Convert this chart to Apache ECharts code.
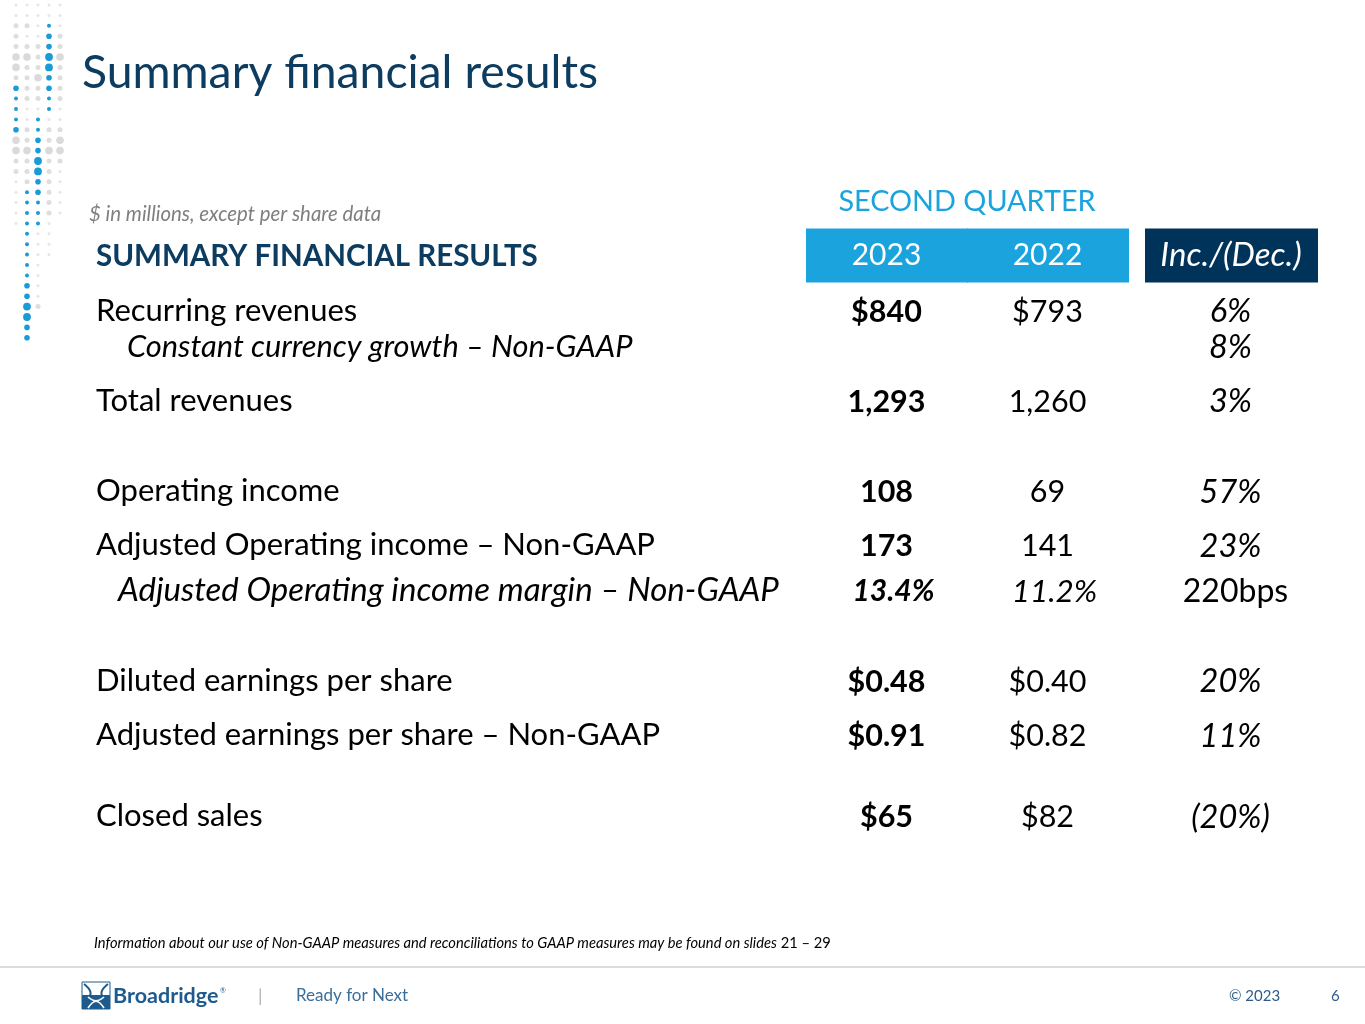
<!DOCTYPE html>
<html>
<head>
<meta charset="utf-8">
<script src="https://cdn.jsdelivr.net/npm/echarts@6/dist/echarts.min.js"></script>
<style>
  html, body { margin: 0; padding: 0; background: #fff; }
  #main { width: 1365px; height: 1024px; }
</style>
</head>
<body>
<div id="main"></div>
<script>
// table content
const rowLabels = [
  'SUMMARY FINANCIAL RESULTS',
  'Recurring revenues',
  'Constant currency growth – Non-GAAP',
  'Total revenues',
  'Operating income',
  'Adjusted Operating income – Non-GAAP',
  'Adjusted Operating income margin – Non-GAAP',
  'Diluted earnings per share',
  'Adjusted earnings per share – Non-GAAP',
  'Closed sales'
];
const columns = ['2023', '2022', 'Inc./(Dec.)'];
const values2023 = ['', '$840', '', '1,293', '108', '173', '13.4%', '$0.48', '$0.91', '$65'];
const values2022 = ['', '$793', '', '1,260', '69', '141', '11.2%', '$0.40', '$0.82', '$82'];
const changes = ['', '6%', '8%', '3%', '57%', '23%', '220bps', '20%', '11%', '(20%)'];

// layout: blank line units before each row, which rows are indented sub-lines
const gapBefore = [0, 6, 4, 6, 10, 6, 5, 10, 6, 9];
const subRowIndent = { 2: 31, 6: 22 };

const FONT = 'Lato, "Noto Sans", sans-serif';
const NAVY = '#0d3c61';
const SKY = '#1ba3dd';
const BODY = 31;

// build the category slots of the y axis
const rowSlot = [];
let s = 0;
gapBefore.forEach(function (g) { s += g; rowSlot.push(s); });
const slotCount = s + 1;
const slotNames = [];
const slotRow = {};
for (let k = 0; k < slotCount; k++) slotNames.push('');
rowSlot.forEach(function (slot, r) { slotNames[slot] = rowLabels[r]; slotRow[slot] = r; });

const cells = [];
[values2023, values2022, changes].forEach(function (arr, c) {
  arr.forEach(function (t, r) {
    if (t !== '') cells.push({ value: [c, rowSlot[r]], text: t, row: r });
  });
});

// decorative dot column, top left
const dotRows = [
  '.....', '.....', 'gg.b.', 'g..Bg', 'gggBg', 'GGgDG', 'GggDg', 'ggGBg',
  'BggBg', 'bggbg', 'b..b.', 'b.b..', 'Bgbgg', 'GgBgG', 'GGBGG', 'ggDgg',
  'ggDg.', '.gBg.', '.bBg.', '.bbg.', '.bbg.', '.bb. ', ' b.. ', ' b.. ',
  ' b.. ', ' b.  ', ' b.  ', ' B.  ', ' B.  ', ' Dg  ', ' D   ', ' B   ', ' B   '
];
const dotStyle = {
  '.': [1.5, '#e6e6e6'], 'g': [2.5, '#dedede'], 'G': [3.8, '#dadada'],
  'b': [2.0, '#1a9bd7'], 'B': [2.8, '#1a9bd7'], 'D': [3.9, '#1a9bd7']
};
const dots = [];
dotRows.forEach(function (row, i) {
  row.split('').forEach(function (ch, j) {
    if (!dotStyle[ch]) return;
    dots.push({
      type: 'circle',
      shape: { cx: 16 + j * 11, cy: 5 + i * 10.4, r: dotStyle[ch][0] },
      style: { fill: dotStyle[ch][1] }
    });
  });
});

function curve(x1, y1, c1x, c1y, c2x, c2y, x2, y2, color, w) {
  return {
    type: 'bezierCurve',
    shape: { x1: x1, y1: y1, cpx1: c1x, cpy1: c1y, cpx2: c2x, cpy2: c2y, x2: x2, y2: y2 },
    style: { stroke: color, fill: null, lineWidth: w }
  };
}

const chart = echarts.init(document.getElementById('main'), null, { renderer: 'canvas' });

const option = {
  backgroundColor: '#fff',
  animation: false,
  grid: { left: 806, width: 483, top: 250, height: slotCount * 9.03 },
  xAxis: {
    type: 'category',
    position: 'top',
    data: columns,
    z: 10,
    axisLine: { show: false },
    axisTick: { show: false },
    splitLine: { show: false },
    axisLabel: {
      interval: 0,
      margin: -5,
      verticalAlign: 'middle',
      color: '#fff',
      fontFamily: FONT,
      fontSize: 30,
      formatter: function (v) { return v === 'Inc./(Dec.)' ? '{inc|' + v + '}' : v; },
      rich: {
        inc: { fontStyle: 'italic', fontFamily: FONT, fontSize: 33, color: '#fff', padding: [0, 0, 0, 45] }
      }
    }
  },
  yAxis: {
    type: 'category',
    inverse: true,
    data: slotNames,
    axisLine: { show: false },
    axisTick: { show: false },
    splitLine: { show: false },
    axisLabel: {
      interval: 0,
      align: 'left',
      margin: 710,
      fontFamily: FONT,
      fontSize: BODY,
      color: '#000',
      formatter: function (v, idx) {
        const r = slotRow[idx];
        if (r === undefined) return '';
        if (r === 0) return '{head|' + v + '}';
        if (subRowIndent[r]) return '{sub' + r + '|' + v + '}';
        return '{n|' + v + '}';
      },
      rich: {
        n: { fontFamily: FONT, fontSize: BODY, color: '#000', padding: [4, 0, 0, 0] },
        head: { fontFamily: FONT, fontSize: 29.5, fontWeight: 'bold', color: NAVY, padding: [4, 0, 0, 0] },
        sub2: { fontFamily: FONT, fontSize: 30.8, fontStyle: 'italic', color: '#000', padding: [4, 0, 0, subRowIndent[2]] },
        sub6: { fontFamily: FONT, fontSize: 33, fontStyle: 'italic', color: '#000', padding: [4, 0, 0, subRowIndent[6]] }
      }
    }
  },
  series: [
    {
      // header boxes behind the column titles
      type: 'custom',
      data: [[0, 0], [1, 0], [2, 0]],
      silent: true,
      renderItem: function (params, api) {
        const col = api.value(0);
        const p = api.coord([col, 0]);
        const size = api.size([1, 1]);
        const h = size[1] * 6;
        let x = p[0] - size[0] / 2, w = size[0] + 1, fill = SKY;
        if (col === 2) { x += 17; w = 173; fill = '#00335a'; }
        return { type: 'rect', shape: { x: x, y: p[1] - h / 2 + 1, width: w, height: h }, style: { fill: fill } };
      }
    },
    {
      type: 'custom',
      data: cells.map(function (c) { return c.value; }),
      silent: true,
      renderItem: function (params, api) {
        const cell = cells[params.dataIndex];
        const col = cell.value[0];
        const p = api.coord(cell.value);
        const isSub = subRowIndent[cell.row] !== undefined;
        const bps = /bps$/.test(cell.text);
        const italic = col === 2 ? !bps : isSub;
        const bold = col === 0;
        let size = 30.5;
        if (bps) size = 32;
        else if (col === 2) size = 32.5;
        else if (italic) size = bold ? 30 : 31.5;
        let dx = 0;
        if (col === 2) dx = bps ? 27 : 22;
        else if (italic) dx = 7;
        return {
          type: 'text',
          x: p[0] + dx,
          y: p[1] + 3,
          style: {
            text: cell.text,
            textAlign: 'center',
            textVerticalAlign: 'middle',
            fontFamily: FONT,
            fontSize: size,
            fontWeight: bold ? 'bold' : 'normal',
            fontStyle: italic ? 'italic' : 'normal',
            fill: '#000'
          }
        };
      }
    }
  ],
  graphic: dots.concat([
    { type: 'text', x: 82, y: 73, style: { text: 'Summary financial results', fontFamily: FONT, fontSize: 46.3, fill: NAVY, textVerticalAlign: 'middle' } },
    { type: 'text', x: 89, y: 214, style: { text: '$ in millions, except per share data', fontFamily: FONT, fontSize: 20.4, fontStyle: 'italic', fill: '#7f7f7f', textVerticalAlign: 'middle' } },
    { type: 'text', x: 967, y: 202, style: { text: 'SECOND QUARTER', fontFamily: FONT, fontSize: 28.8, fill: SKY, textAlign: 'center', textVerticalAlign: 'middle' } },
    {
      type: 'text', x: 94, y: 943,
      style: {
        text: '{i|Information about our use of Non-GAAP measures and reconciliations to GAAP measures may be found on slides} 21 – 29',
        fontFamily: FONT, fontSize: 14.7, fill: '#000', textVerticalAlign: 'middle',
        rich: { i: { fontFamily: FONT, fontSize: 14.7, fontStyle: 'italic', fill: '#000' } }
      }
    },
    { type: 'line', shape: { x1: 0, y1: 967, x2: 1365, y2: 967 }, style: { stroke: '#cfcfcf', lineWidth: 1.5 } },
    // logo mark
    { type: 'rect', shape: { x: 82, y: 982, width: 28, height: 27 }, style: { fill: '#fff', stroke: '#1d5b8f', lineWidth: 1 } },
    { type: 'rect', shape: { x: 82, y: 995, width: 28, height: 14 }, style: { fill: '#1d5b8f' } },
    curve(84, 984, 92, 990, 92, 996, 88, 996, '#1d5b8f', 2),
    curve(108, 984, 100, 990, 100, 996, 104, 996, '#1d5b8f', 2),
    curve(88, 1008, 94, 999, 98, 999, 104, 1008, '#fff', 1.6),
    curve(88, 997, 94, 1002, 98, 1002, 104, 997, '#fff', 1.6),
    { type: 'text', x: 113, y: 996, style: { text: 'Broadridge', fontFamily: FONT, fontSize: 21.5, fontWeight: 'bold', fill: '#1d5b8f', textVerticalAlign: 'middle' } },
    { type: 'text', x: 220, y: 991, style: { text: '®', fontFamily: FONT, fontSize: 7, fill: '#1d5b8f', textVerticalAlign: 'middle' } },
    { type: 'text', x: 258, y: 996, style: { text: '|', fontFamily: FONT, fontSize: 18, fill: '#b0b0b0', textVerticalAlign: 'middle' } },
    { type: 'text', x: 296, y: 996, style: { text: 'Ready for Next', fontFamily: FONT, fontSize: 17, fill: '#3a6e9a', textVerticalAlign: 'middle' } },
    { type: 'text', x: 1229, y: 996, style: { text: '© 2023', fontFamily: FONT, fontSize: 15, fill: '#2e5c8a', textVerticalAlign: 'middle' } },
    { type: 'text', x: 1331, y: 996, style: { text: '6', fontFamily: FONT, fontSize: 15, fill: '#2e5c8a', textVerticalAlign: 'middle' } }
  ])
};

chart.setOption(option);
</script>
</body>
</html>
